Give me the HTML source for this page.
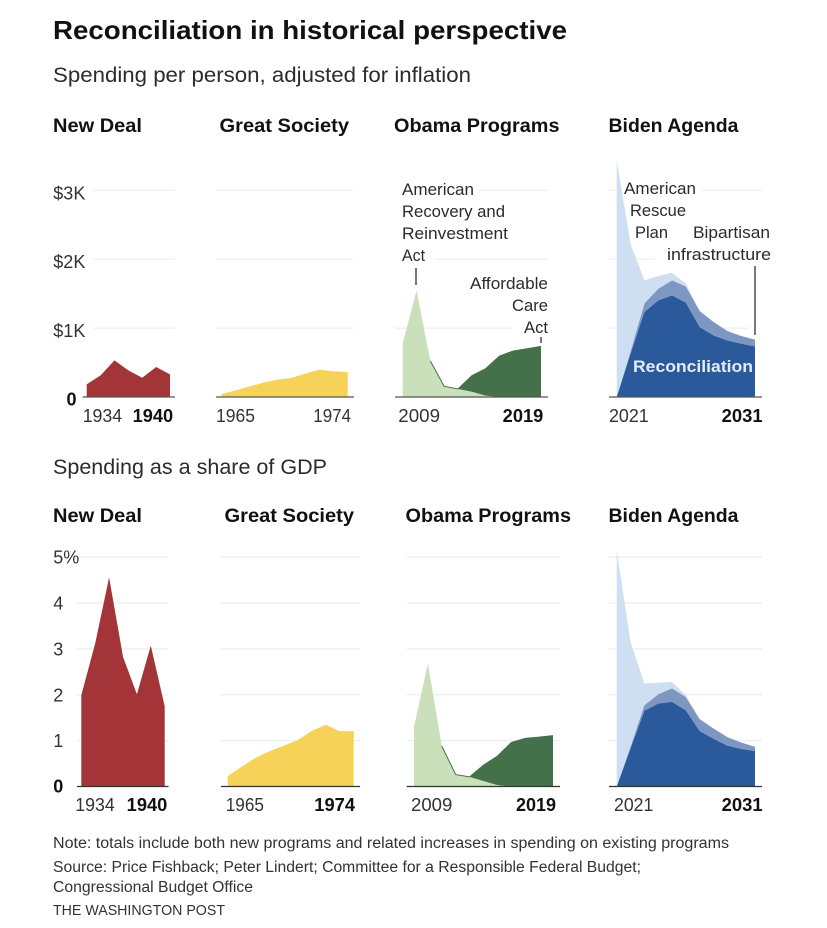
<!DOCTYPE html>
<html lang="en">
<head>
<meta charset="utf-8">
<title>Reconciliation in historical perspective</title>
<style>
html,body{margin:0;padding:0;background:#fff;}
svg{display:block;}
text{font-family:"Liberation Sans",sans-serif;fill:#2b2b2b;}
.title{font-size:26px;font-weight:700;fill:#111;}
.sub{font-size:21px;font-weight:400;}
.hd{font-size:19px;font-weight:700;fill:#111;}
.tick{font-size:18px;fill:#333;}
.b{font-size:18px;font-weight:700;fill:#111;}
.ann{font-size:17px;fill:#2b2b2b;}
.foot{font-size:15.5px;fill:#333;}
</style>
</head>
<body>
<svg id="chart" width="827" height="928" viewBox="0 0 827 928" xmlns="http://www.w3.org/2000/svg">
  <rect width="827" height="928" fill="#fff"/>
  <g id="grid"></g>
  <g>
    <rect x="394" y="186" width="85" height="8" fill="#fff"/>
    <rect x="394" y="255" width="41" height="8" fill="#fff"/>
    <rect x="513" y="324" width="36" height="8" fill="#fff"/>
    <rect x="620" y="186" width="82" height="8" fill="#fff"/>
    <rect x="655" y="255" width="108" height="8" fill="#fff"/>
    <rect x="748" y="324" width="15" height="8" fill="#fff"/>
  </g>
  <g id="areas"></g>
  <g id="axes"></g>

  <text class="title" x="53" y="39" textLength="514">Reconciliation in historical perspective</text>
  <text class="sub" x="53" y="82" textLength="418">Spending per person, adjusted for inflation</text>
  <text class="sub" x="53" y="474" textLength="274">Spending as a share of GDP</text>

  <text class="hd" x="53" y="132" textLength="89">New Deal</text>
  <text class="hd" x="219.5" y="132" textLength="129.5">Great Society</text>
  <text class="hd" x="394" y="132" textLength="165.5">Obama Programs</text>
  <text class="hd" x="608.5" y="132" textLength="130">Biden Agenda</text>
  <text class="hd" x="53" y="522" textLength="89">New Deal</text>
  <text class="hd" x="224.5" y="522" textLength="129.5">Great Society</text>
  <text class="hd" x="405.5" y="522" textLength="165.5">Obama Programs</text>
  <text class="hd" x="608.5" y="522" textLength="130">Biden Agenda</text>

  <text class="tick" x="82.7" y="422" textLength="39.5">1934</text>
  <text class="b" x="132.7" y="422" textLength="40.5">1940</text>
  <text class="tick" x="216" y="422" textLength="39">1965</text>
  <text class="tick" x="313.3" y="422" textLength="37.7">1974</text>
  <text class="tick" x="398.3" y="422" textLength="41.7">2009</text>
  <text class="b" x="502.7" y="422" textLength="40.6">2019</text>
  <text class="tick" x="609" y="422" textLength="39.7">2021</text>
  <text class="b" x="721.7" y="422" textLength="41">2031</text>

  <text class="tick" x="75.3" y="811" textLength="39.4">1934</text>
  <text class="b" x="126.7" y="811" textLength="40.6">1940</text>
  <text class="tick" x="225.7" y="811" textLength="38.3">1965</text>
  <text class="b" x="314.3" y="811" textLength="40.7">1974</text>
  <text class="tick" x="411" y="811" textLength="41.3">2009</text>
  <text class="b" x="516" y="811" textLength="40">2019</text>
  <text class="tick" x="614" y="811" textLength="39.3">2021</text>
  <text class="b" x="721.7" y="811" textLength="41">2031</text>

  <g>
    <text class="ann" x="402" y="195" textLength="72">American</text>
    <text class="ann" x="402" y="217" textLength="103">Recovery and</text>
    <text class="ann" x="402" y="239" textLength="106">Reinvestment</text>
    <text class="ann" x="402" y="261" textLength="23">Act</text>
    <line x1="416" y1="268" x2="416" y2="285" stroke="#333" stroke-width="1.3"/>
  </g>
  <g>
    <text class="ann" x="470" y="289" textLength="78">Affordable</text>
    <text class="ann" x="512" y="311" textLength="36">Care</text>
    <text class="ann" x="524" y="333" textLength="24">Act</text>
    <line x1="541" y1="337" x2="541" y2="343" stroke="#333" stroke-width="1.3"/>
  </g>
  <g>
    <text class="ann" x="624" y="194" textLength="72">American</text>
    <text class="ann" x="630" y="216" textLength="56">Rescue</text>
    <text class="ann" x="635" y="238" textLength="33">Plan</text>
  </g>
  <g>
    <text class="ann" x="693" y="238" textLength="77">Bipartisan</text>
    <text class="ann" x="667" y="260" textLength="104">infrastructure</text>
    <line x1="755" y1="266" x2="755" y2="335" stroke="#333" stroke-width="1.3"/>
  </g>
  <text x="633" y="372" textLength="120" font-size="17" font-weight="700" style="fill:#e3ebf6">Reconciliation</text>

  <text class="foot" x="53" y="848" textLength="676">Note: totals include both new programs and related increases in spending on existing programs</text>
  <text class="foot" x="53" y="872" textLength="588">Source: Price Fishback; Peter Lindert; Committee for a Responsible Federal Budget;</text>
  <text class="foot" x="53" y="892" textLength="200">Congressional Budget Office</text>
  <text class="foot" x="53" y="915" textLength="172" style="font-size:15px">THE WASHINGTON POST</text>
</svg>

<script>
// ---- Spending per person (dollars) ----
const perPersonTicks = [0, 1000, 2000, 3000];
const perPersonTickLabels = ['0', '$1K', '$2K', '$3K'];
const newDealPerPerson = [184, 314, 532, 387, 280, 435, 329];
const greatSocietyPerPerson = [44, 97, 155, 208, 252, 276, 343, 397, 372, 363];
const recoveryPerPerson = [774, 1548, 522, 155, 116, 77, 20, 0, 0, 0, 0];
const acaPerPerson = [null, null, 0, 0, 0, 233, 391, 595, 668, 701, 735];
const reconciliationPerPerson = [0, 629, 1234, 1403, 1475, 1369, 1016, 895, 822, 774, 735];
const infrastructurePerPerson = [0, 30, 121, 169, 218, 237, 232, 193, 136, 111, 97];
const rescuePerPerson = [3435, 1566, 338, 184, 112, 39, 0, 0, 0, 0, 0];

// ---- Spending as a share of GDP (percent) ----
const gdpTicks = [0, 1, 2, 3, 4, 5];
const gdpTickLabels = ['0', '1', '2', '3', '4', '5%'];
const newDealGdp = [1.99, 3.12, 4.56, 2.83, 2.01, 3.07, 1.75];
const greatSocietyGdp = [0.225, 0.43, 0.625, 0.77, 0.887, 1.01, 1.21, 1.345, 1.206, 1.206];
const recoveryGdp = [1.30, 2.68, 0.88, 0.26, 0.21, 0.12, 0.03, 0, 0, 0, 0];
const acaGdp = [null, null, 0, 0, 0, 0.345, 0.63, 0.96, 1.05, 1.076, 1.11];
const reconciliationGdp = [0, 0.83, 1.65, 1.81, 1.846, 1.66, 1.21, 1.04, 0.89, 0.82, 0.77];
const infrastructureGdp = [0, 0.04, 0.12, 0.20, 0.294, 0.29, 0.26, 0.225, 0.186, 0.14, 0.095];
const rescueGdp = [5.15, 2.28, 0.475, 0.25, 0.14, 0.04, 0, 0, 0, 0, 0];

const NS = 'http://www.w3.org/2000/svg';
const RED = '#a33538', YEL = '#f6d258', LG = '#c9e0bb', DG = '#44704a', LB = '#cfdff2', MB = '#7d97c2', DB = '#2a5a9c';

document.querySelectorAll('text[textLength]').forEach(t => t.setAttribute('lengthAdjust', 'spacingAndGlyphs'));

function yTop(v) { return 397 - v * 0.0689; }
function yBot(v) { return 786.5 - v * 45.87; }

function stackedArea(parent, x0, x1, yFn, layers) {
  const n = layers[0].values.length;
  const xAt = i => x0 + (x1 - x0) * i / (n - 1);
  const base = new Array(n).fill(0);
  layers.forEach(layer => {
    const top = [], bottom = [];
    for (let i = 0; i < n; i++) {
      const v = layer.values[i];
      if (v === null) continue;
      bottom.push([xAt(i), yFn(base[i])]);
      top.push([xAt(i), yFn(base[i] + v)]);
    }
    for (let i = 0; i < n; i++) {
      if (layer.values[i] !== null) base[i] += layer.values[i];
    }
    const pts = top.concat(bottom.slice().reverse());
    const path = document.createElementNS(NS, 'path');
    path.setAttribute('d', 'M' + pts.map(p => p[0].toFixed(2) + ',' + p[1].toFixed(2)).join('L') + 'Z');
    path.setAttribute('fill', layer.color);
    
    
    parent.appendChild(path);
    if (layer.outline) {
      const line = document.createElementNS(NS, 'path');
      line.setAttribute('d', 'M' + top.map(p => p[0].toFixed(2) + ',' + p[1].toFixed(2)).join('L'));
      line.setAttribute('fill', 'none');
      line.setAttribute('stroke', layer.color);
      line.setAttribute('stroke-width', '1');
      
      
      parent.appendChild(line);
    }
  });
}

function gridLines(parent, ticks, yFn, x0, x1, prefix) {
  ticks.forEach(t => {
    if (t === 0) return;
    const l = document.createElementNS(NS, 'line');
    l.setAttribute('x1', x0);
    l.setAttribute('x2', x1);
    l.setAttribute('y1', yFn(t));
    l.setAttribute('y2', yFn(t));
    l.setAttribute('stroke', '#eeeef1');
    l.setAttribute('stroke-width', '1.2');
    
    
    parent.appendChild(l);
  });
}

function baseline(parent, y, x0, x1, color, prefix) {
  const l = document.createElementNS(NS, 'line');
  l.setAttribute('x1', x0);
  l.setAttribute('x2', x1);
  l.setAttribute('y1', y);
  l.setAttribute('y2', y);
  l.setAttribute('stroke', color);
  l.setAttribute('stroke-width', '1.3');
  
  
  parent.appendChild(l);
}

function yLabels(parent, ticks, labels, yFn, offset, zeroOffset, x, zeroX, prefix) {
  ticks.forEach((t, i) => {
    const el = document.createElementNS(NS, 'text');
    el.textContent = labels[i];
    el.setAttribute('x', t === 0 ? zeroX : x);
    el.setAttribute('y', yFn(t) + (t === 0 ? zeroOffset : offset));
    el.setAttribute('class', t === 0 ? 'b' : 'tick');
    
    
    parent.appendChild(el);
  });
}

const gridG = document.getElementById('grid');
const areasG = document.getElementById('areas');
const axesG = document.getElementById('axes');

// Top row
gridLines(gridG, perPersonTicks, yTop, 93.5, 175, 'top-new-deal');
gridLines(gridG, perPersonTicks, yTop, 216, 353.5, 'top-great-society');
gridLines(gridG, perPersonTicks, yTop, 395, 548, 'top-obama');
gridLines(gridG, perPersonTicks, yTop, 609, 762, 'top-biden');

stackedArea(areasG, 86.7, 170, yTop, [{ name: 'new-deal-area', values: newDealPerPerson, color: RED }]);
stackedArea(areasG, 221.7, 347.7, yTop, [{ name: 'great-society-area', values: greatSocietyPerPerson, color: YEL }]);
stackedArea(areasG, 402.7, 541, yTop, [
  { name: 'recovery-act-area', values: recoveryPerPerson, color: LG },
  { name: 'affordable-care-act-area', values: acaPerPerson, color: DG, outline: true }
]);
stackedArea(areasG, 616.7, 755, yTop, [
  { name: 'reconciliation-area', values: reconciliationPerPerson, color: DB },
  { name: 'infrastructure-area', values: infrastructurePerPerson, color: MB },
  { name: 'rescue-plan-area', values: rescuePerPerson, color: LB }
]);

baseline(axesG, yTop(0), 82.7, 175, '#555', 'top-new-deal');
baseline(axesG, yTop(0), 216, 354, '#555', 'top-great-society');
baseline(axesG, yTop(0), 395, 548, '#555', 'top-obama');
baseline(axesG, yTop(0), 609, 762, '#555', 'top-biden');
yLabels(axesG, perPersonTicks, perPersonTickLabels, yTop, 9, 8.5, 53.3, 66.5, 'top');

// Bottom row
gridLines(gridG, gdpTicks, yBot, 77, 168, 'bottom-new-deal');
gridLines(gridG, gdpTicks, yBot, 221, 360, 'bottom-great-society');
gridLines(gridG, gdpTicks, yBot, 406.7, 560, 'bottom-obama');
gridLines(gridG, gdpTicks, yBot, 609, 762, 'bottom-biden');

stackedArea(areasG, 81.3, 164.7, yBot, [{ name: 'new-deal-gdp-area', values: newDealGdp, color: RED }]);
stackedArea(areasG, 227.7, 353.7, yBot, [{ name: 'great-society-gdp-area', values: greatSocietyGdp, color: YEL }]);
stackedArea(areasG, 414, 553, yBot, [
  { name: 'recovery-act-gdp-area', values: recoveryGdp, color: LG },
  { name: 'affordable-care-act-gdp-area', values: acaGdp, color: DG, outline: true }
]);
stackedArea(areasG, 616.7, 755, yBot, [
  { name: 'reconciliation-gdp-area', values: reconciliationGdp, color: DB },
  { name: 'infrastructure-gdp-area', values: infrastructureGdp, color: MB },
  { name: 'rescue-plan-gdp-area', values: rescueGdp, color: LB }
]);

baseline(axesG, yBot(0), 77, 168.5, '#333', 'bottom-new-deal');
baseline(axesG, yBot(0), 221, 360, '#333', 'bottom-great-society');
baseline(axesG, yBot(0), 406.7, 560, '#333', 'bottom-obama');
baseline(axesG, yBot(0), 609, 762, '#333', 'bottom-biden');
yLabels(axesG, gdpTicks, gdpTickLabels, yBot, 6.5, 6, 53.3, 53.3, 'bottom');
</script>
</body>
</html>
